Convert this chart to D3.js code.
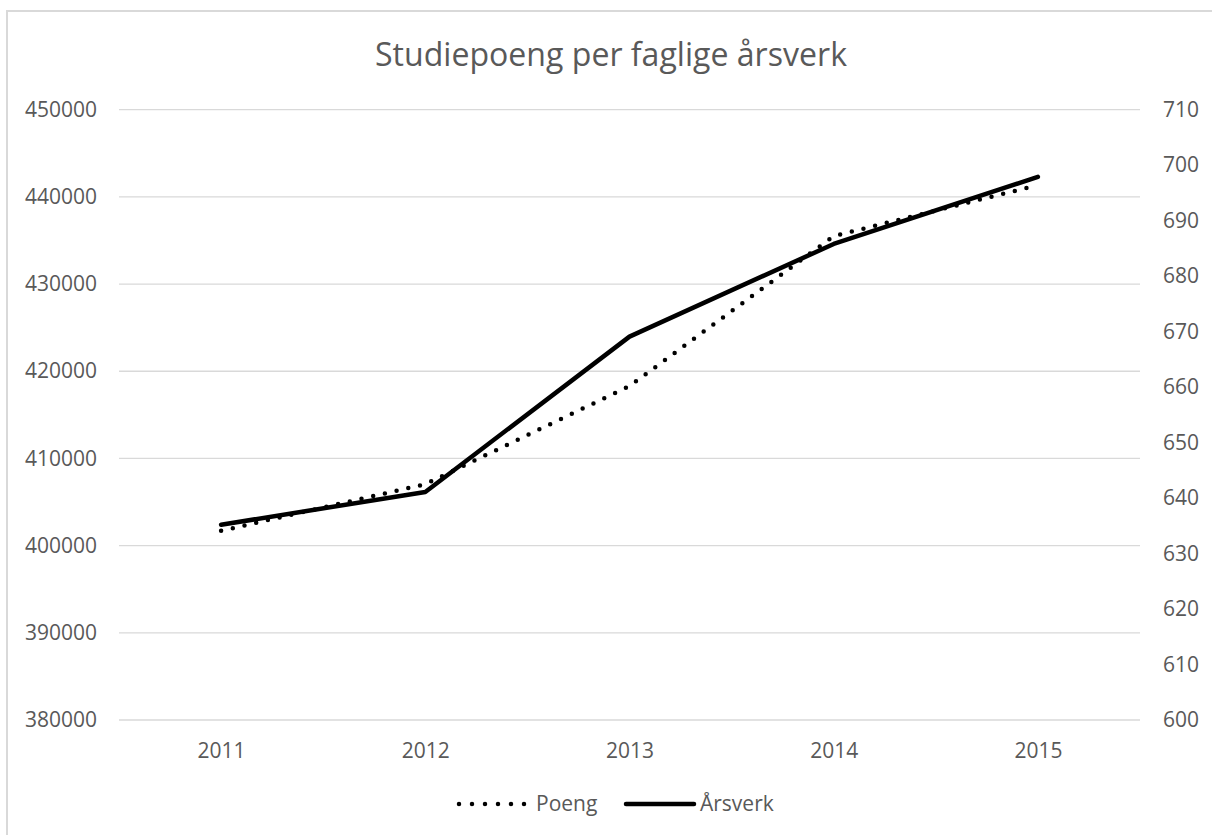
<!DOCTYPE html>
<html>
<head>
<meta charset="utf-8">
<script src="https://cdn.jsdelivr.net/npm/d3@7"></script>
<style>
  body { margin: 0; background: #fff; }
  text { font-family: "Open Sans", sans-serif; fill: #595959; }
</style>
</head>
<body>
<svg id="chart" width="1212" height="835"></svg>
<script>
// data
var years = ["2011", "2012", "2013", "2014", "2015"];
var poeng = [401700, 407050, 418300, 435500, 441350];   // left axis
var arsverk = [635.2, 641.1, 669.1, 685.8, 697.9];      // right axis
var leftTicks = [380000, 390000, 400000, 410000, 420000, 430000, 440000, 450000];
var rightTicks = [600, 610, 620, 630, 640, 650, 660, 670, 680, 690, 700, 710];

var svg = d3.select("#chart");

// chart border
svg.append("rect")
    .attr("x", 7).attr("y", 11)
    .attr("width", 1230).attr("height", 850)
    .attr("fill", "none")
    .attr("stroke", "#d9d9d9")
    .attr("stroke-width", 2);

var x = d3.scalePoint().domain(years).range([119, 1140]).padding(0.5);
var yL = d3.scaleLinear().domain([380000, 450000]).range([720, 109.7]);
var yR = d3.scaleLinear().domain([600, 710]).range([720, 109.7]);

// title
svg.append("text")
    .attr("x", 611).attr("y", 66)
    .attr("text-anchor", "middle")
    .style("font-size", "32px")
    .attr("textLength", 472)
    .attr("lengthAdjust", "spacingAndGlyphs")
    .text("Studiepoeng per faglige årsverk");

// gridlines
svg.append("g").selectAll("line")
    .data(leftTicks)
    .enter().append("line")
    .attr("x1", 119).attr("x2", 1140)
    .attr("y1", function(d) { return yL(d); })
    .attr("y2", function(d) { return yL(d); })
    .attr("stroke", "#d9d9d9")
    .attr("stroke-width", 1.3);

// left axis labels
var leftAxis = d3.axisLeft(yL).tickValues(leftTicks).tickSize(0).tickPadding(0)
    .tickFormat(d3.format("d"));
var gl = svg.append("g").attr("transform", "translate(97,0)").call(leftAxis);
gl.select(".domain").remove();
gl.selectAll("text").style("font-size", "21px").attr("fill", "#595959");

// right axis labels
var rightAxis = d3.axisRight(yR).tickValues(rightTicks).tickSize(0).tickPadding(0)
    .tickFormat(d3.format("d"));
var gr = svg.append("g").attr("transform", "translate(1163,0)").call(rightAxis);
gr.select(".domain").remove();
gr.selectAll("text").style("font-size", "21px").attr("fill", "#595959");

// x axis labels
var bottomAxis = d3.axisBottom(x).tickSize(0).tickPadding(0);
var gb = svg.append("g").attr("transform", "translate(0,743)").call(bottomAxis);
gb.select(".domain").remove();
gb.selectAll("text").style("font-size", "21px").attr("fill", "#595959");

// lines
var lineL = d3.line()
    .x(function(d, i) { return x(years[i]); })
    .y(function(d) { return yL(d); });
var lineR = d3.line()
    .x(function(d, i) { return x(years[i]); })
    .y(function(d) { return yR(d); });

svg.append("path")
    .datum(poeng)
    .attr("d", lineL)
    .attr("fill", "none")
    .attr("stroke", "#000")
    .attr("stroke-width", 4.5)
    .attr("stroke-linecap", "round")
    .attr("stroke-dasharray", "0 12");

svg.append("path")
    .datum(arsverk)
    .attr("d", lineR)
    .attr("fill", "none")
    .attr("stroke", "#000")
    .attr("stroke-width", 4.5)
    .attr("stroke-linecap", "round")
    .attr("stroke-linejoin", "round");

// legend
var leg = svg.append("g");
leg.append("line")
    .attr("x1", 459).attr("x2", 525)
    .attr("y1", 804).attr("y2", 804)
    .attr("stroke", "#000")
    .attr("stroke-width", 4.5)
    .attr("stroke-linecap", "round")
    .attr("stroke-dasharray", "0 13");
leg.append("text")
    .attr("x", 536).attr("y", 811)
    .style("font-size", "21px")
    .text("Poeng");
leg.append("line")
    .attr("x1", 626).attr("x2", 694)
    .attr("y1", 804).attr("y2", 804)
    .attr("stroke", "#000")
    .attr("stroke-width", 4.5)
    .attr("stroke-linecap", "round");
leg.append("text")
    .attr("x", 700).attr("y", 811)
    .style("font-size", "21px")
    .text("Årsverk");
</script>
</body>
</html>
